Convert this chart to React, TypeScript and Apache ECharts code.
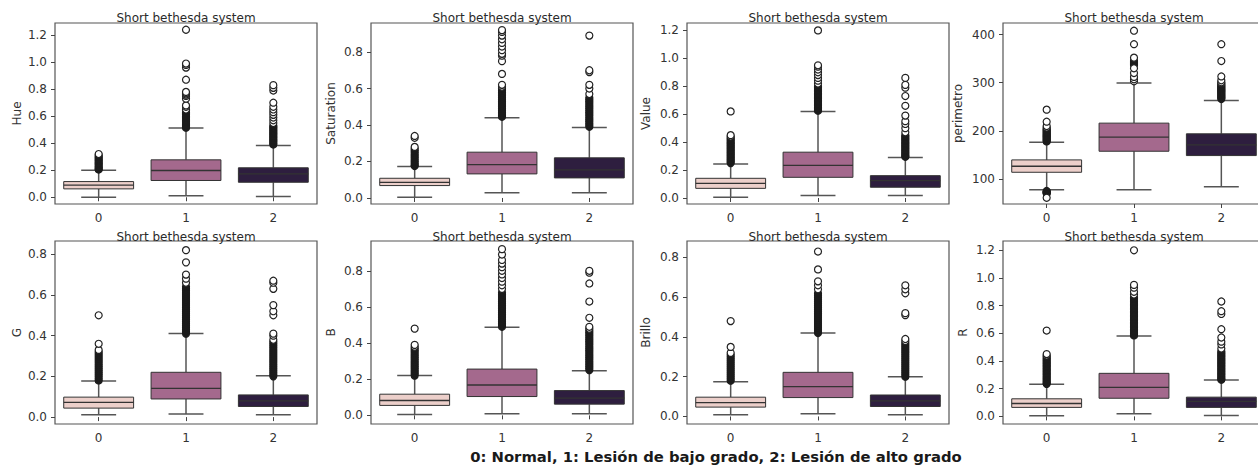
import React, { useEffect, useRef } from "react";
import * as echarts from "echarts";

const categories = ["0", "1", "2"];
const classColors = ["#eccfca", "#a4698d", "#2e1e3f"];
const panelTitle = "Short bethesda system";
const caption = "0: Normal, 1: Lesión de bajo grado, 2: Lesión de alto grado";

// box stats per class: [lower whisker, Q1, median, Q3, upper whisker]
const hueStats = [
  [0.0, 0.062, 0.09, 0.116, 0.2],
  [0.012, 0.124, 0.198, 0.277, 0.512],
  [0.005, 0.111, 0.173, 0.218, 0.383],
];
// dense (overlapping) outliers and isolated outliers, per class
const hueDense = [
  [0.205, 0.21, 0.22, 0.23, 0.24, 0.25, 0.26, 0.27, 0.28, 0.29, 0.3, 0.31],
  [0.515, 0.52, 0.53, 0.54, 0.55, 0.56, 0.57, 0.58, 0.59, 0.6, 0.61, 0.62, 0.63, 0.64],
  [0.39, 0.4, 0.41, 0.42, 0.43, 0.44, 0.45, 0.46, 0.47, 0.48, 0.49, 0.5, 0.51, 0.52, 0.53],
];
const hueSparse = [
  [0.32],
  [0.65, 0.67, 0.68, 0.73, 0.75, 0.76, 0.77, 0.78, 0.87, 0.96, 0.98, 0.99, 1.24],
  [0.55, 0.57, 0.59, 0.61, 0.63, 0.65, 0.67, 0.7, 0.79, 0.81, 0.83],
];

const satStats = [
  [0.004, 0.068, 0.086, 0.108, 0.172],
  [0.029, 0.132, 0.183, 0.251, 0.44],
  [0.029, 0.11, 0.154, 0.22, 0.386],
];
const satDense = [
  [0.175, 0.18, 0.19, 0.2, 0.21, 0.22, 0.23, 0.24, 0.25, 0.26, 0.27],
  [0.445, 0.45, 0.46, 0.47, 0.48, 0.49, 0.5, 0.51, 0.52, 0.53, 0.54, 0.55, 0.56, 0.57, 0.58, 0.59, 0.6],
  [0.39, 0.4, 0.41, 0.42, 0.43, 0.44, 0.45, 0.46, 0.47, 0.48, 0.49, 0.5, 0.51, 0.52, 0.53, 0.54, 0.55],
];
const satSparse = [
  [0.28, 0.33, 0.34],
  [0.61, 0.62, 0.68, 0.75, 0.78, 0.79, 0.81, 0.83, 0.85, 0.87, 0.89, 0.91, 0.92],
  [0.57, 0.6, 0.62, 0.69, 0.7, 0.89],
];

const valStats = [
  [0.005, 0.069, 0.105, 0.141, 0.244],
  [0.017, 0.148, 0.234, 0.328, 0.619],
  [0.017, 0.077, 0.124, 0.16, 0.29],
];
const valDense = [
  [0.25, 0.26, 0.27, 0.28, 0.29, 0.3, 0.31, 0.32, 0.33, 0.34, 0.35, 0.36, 0.37, 0.38, 0.39, 0.4, 0.41, 0.42, 0.43],
  [0.625, 0.63, 0.64, 0.65, 0.66, 0.67, 0.68, 0.69, 0.7, 0.71, 0.72, 0.73, 0.74, 0.75, 0.76, 0.77, 0.78, 0.79, 0.8],
  [0.295, 0.3, 0.31, 0.32, 0.33, 0.34, 0.35, 0.36, 0.37, 0.38, 0.39, 0.4, 0.41, 0.42, 0.43, 0.44, 0.45],
];
const valSparse = [
  [0.44, 0.45, 0.62],
  [0.82, 0.84, 0.86, 0.88, 0.9, 0.92, 0.94, 0.95, 1.2],
  [0.47, 0.5, 0.53, 0.55, 0.59, 0.66, 0.73, 0.79, 0.81, 0.86],
];

const perStats = [
  [77.8, 113.9, 126.4, 139.6, 176.4],
  [77.8, 157.6, 186.8, 216, 299.3],
  [84, 148.6, 170.8, 193.8, 263.2],
];
const perDense = [
  [178, 180, 182, 184, 186, 188, 190, 192, 194, 196, 198, 200, 202, 204, 70, 71, 72, 73, 74, 75],
  [337, 339, 341, 343, 345],
  [266, 268, 270, 272, 274, 276, 278, 280, 282, 284, 286, 288, 290, 292, 294, 296],
];
const perSparse = [
  [207, 210, 219, 244, 61],
  [303, 307, 312, 320, 330, 352, 380, 408],
  [299, 301, 305, 313, 345, 380],
];

const gStats = [
  [0.011, 0.044, 0.072, 0.098, 0.177],
  [0.015, 0.089, 0.141, 0.22, 0.41],
  [0.011, 0.052, 0.08, 0.109, 0.203],
];
const gDense = [
  [0.18, 0.19, 0.2, 0.21, 0.22, 0.23, 0.24, 0.25, 0.26, 0.27, 0.28, 0.29, 0.3, 0.31, 0.32],
  [0.41, 0.42, 0.43, 0.44, 0.45, 0.46, 0.47, 0.48, 0.49, 0.5, 0.51, 0.52, 0.53, 0.54, 0.55, 0.56, 0.57, 0.58, 0.59, 0.6, 0.61, 0.62, 0.63, 0.64],
  [0.2, 0.21, 0.22, 0.23, 0.24, 0.25, 0.26, 0.27, 0.28, 0.29, 0.3, 0.31, 0.32, 0.33, 0.34, 0.35, 0.36, 0.37],
];
const gSparse = [
  [0.33, 0.36, 0.5],
  [0.66, 0.68, 0.7, 0.76, 0.82],
  [0.38, 0.4, 0.41, 0.5, 0.52, 0.55, 0.63, 0.66, 0.67],
];

const bStats = [
  [0.004, 0.055, 0.082, 0.117, 0.22],
  [0.009, 0.104, 0.168, 0.256, 0.487],
  [0.009, 0.062, 0.095, 0.137, 0.247],
];
const bDense = [
  [0.22, 0.23, 0.24, 0.25, 0.26, 0.27, 0.28, 0.29, 0.3, 0.31, 0.32, 0.33, 0.34, 0.35, 0.36, 0.37],
  [0.49, 0.5, 0.51, 0.52, 0.53, 0.54, 0.55, 0.56, 0.57, 0.58, 0.59, 0.6, 0.61, 0.62, 0.63, 0.64, 0.65, 0.66, 0.67, 0.68],
  [0.25, 0.26, 0.27, 0.28, 0.29, 0.3, 0.31, 0.32, 0.33, 0.34, 0.35, 0.36, 0.37, 0.38, 0.39, 0.4, 0.41, 0.42, 0.43, 0.44, 0.45, 0.46, 0.47],
];
const bSparse = [
  [0.38, 0.39, 0.48],
  [0.7, 0.72, 0.74, 0.76, 0.78, 0.8, 0.82, 0.84, 0.86, 0.89, 0.92],
  [0.48, 0.49, 0.54, 0.63, 0.73, 0.79, 0.8],
];

const brStats = [
  [0.008, 0.047, 0.07, 0.097, 0.175],
  [0.013, 0.095, 0.15, 0.222, 0.42],
  [0.008, 0.05, 0.078, 0.108, 0.2],
];
const brDense = [
  [0.18, 0.19, 0.2, 0.21, 0.22, 0.23, 0.24, 0.25, 0.26, 0.27, 0.28, 0.29, 0.3, 0.31],
  [0.42, 0.43, 0.44, 0.45, 0.46, 0.47, 0.48, 0.49, 0.5, 0.51, 0.52, 0.53, 0.54, 0.55, 0.56, 0.57, 0.58, 0.59, 0.6, 0.61, 0.62],
  [0.2, 0.21, 0.22, 0.23, 0.24, 0.25, 0.26, 0.27, 0.28, 0.29, 0.3, 0.31, 0.32, 0.33, 0.34, 0.35, 0.36, 0.37],
];
const brSparse = [
  [0.32, 0.35, 0.48],
  [0.64, 0.66, 0.68, 0.74, 0.83],
  [0.38, 0.39, 0.51, 0.52, 0.62, 0.64, 0.66],
];

const rStats = [
  [0.005, 0.065, 0.093, 0.127, 0.232],
  [0.019, 0.131, 0.21, 0.311, 0.581],
  [0.007, 0.065, 0.108, 0.139, 0.263],
];
const rDense = [
  [0.235, 0.24, 0.25, 0.26, 0.27, 0.28, 0.29, 0.3, 0.31, 0.32, 0.33, 0.34, 0.35, 0.36, 0.37, 0.38, 0.39, 0.4, 0.41, 0.42, 0.43],
  [0.585, 0.59, 0.6, 0.61, 0.62, 0.63, 0.64, 0.65, 0.66, 0.67, 0.68, 0.69, 0.7, 0.71, 0.72, 0.73, 0.74, 0.75, 0.76, 0.77, 0.78, 0.79, 0.8, 0.81, 0.82, 0.83, 0.84, 0.85, 0.86],
  [0.265, 0.27, 0.28, 0.29, 0.3, 0.31, 0.32, 0.33, 0.34, 0.35, 0.36, 0.37, 0.38, 0.39, 0.4, 0.41, 0.42, 0.43, 0.44, 0.45, 0.46, 0.47],
];
const rSparse = [
  [0.44, 0.45, 0.62],
  [0.88, 0.9, 0.93, 0.95, 1.2],
  [0.49, 0.52, 0.54, 0.57, 0.63, 0.74, 0.76, 0.83],
];

const fracTicks12 = [0, 0.2, 0.4, 0.6, 0.8, 1.0, 1.2];
const fracTicks08 = [0, 0.2, 0.4, 0.6, 0.8];
const perTicks = [100, 200, 300, 400];

const panels = [
  { name: "Hue", stats: hueStats, dense: hueDense, sparse: hueSparse, min: -0.05, max: 1.29, ticks: fracTicks12, dec: 1, gap: 32 },
  { name: "Saturation", stats: satStats, dense: satDense, sparse: satSparse, min: -0.033, max: 0.959, ticks: fracTicks08, dec: 1, gap: 34 },
  { name: "Value", stats: valStats, dense: valDense, sparse: valSparse, min: -0.043, max: 1.253, ticks: fracTicks12, dec: 1, gap: 35 },
  { name: "perimetro", stats: perStats, dense: perDense, sparse: perSparse, min: 48, max: 424, ticks: perTicks, dec: 0, gap: 39 },
  { name: "G", stats: gStats, dense: gDense, sparse: gSparse, min: -0.034, max: 0.865, ticks: fracTicks08, dec: 1, gap: 32 },
  { name: "B", stats: bStats, dense: bDense, sparse: bSparse, min: -0.048, max: 0.965, ticks: fracTicks08, dec: 1, gap: 34 },
  { name: "Brillo", stats: brStats, dense: brDense, sparse: brSparse, min: -0.038, max: 0.883, ticks: fracTicks08, dec: 1, gap: 35 },
  { name: "R", stats: rStats, dense: rDense, sparse: rSparse, min: -0.055, max: 1.267, ticks: fracTicks12, dec: 1, gap: 34 },
];

const FONT = "DejaVu Sans";
const LEFTS = [55, 371, 687, 1003];
const PANEL_W = 262;
const ROWS = [
  { top: 23, height: 181, titleY: 18 },
  { top: 241, height: 183, titleY: 237 },
];
const LINE = "#555555";
const EDGE = "#333333";
const DENSE = "#1c1c1c";

export default function App() {
  const ref = useRef<HTMLDivElement>(null);
  useEffect(() => {
    if (!ref.current) return;
    const chart = echarts.init(ref.current, null, { renderer: "svg" });
    const grid: any[] = [];
    const xAxis: any[] = [];
    const yAxis: any[] = [];
    const series: any[] = [];
    const graphic: any[] = [];

    panels.forEach((p, i) => {
      const row = ROWS[Math.floor(i / 4)];
      const left = LEFTS[i % 4];
      grid.push({
        left,
        top: row.top,
        width: PANEL_W,
        height: row.height,
        show: true,
        borderColor: "#555",
        borderWidth: 1.2,
        backgroundColor: "transparent",
      });
      xAxis.push({
        type: "category",
        gridIndex: i,
        data: categories,
        axisLine: { show: false },
        axisTick: { show: true, alignWithLabel: true, length: 4, lineStyle: { color: "#444" } },
        axisLabel: { fontSize: 12, color: "#333", fontFamily: FONT, margin: 8 },
        splitLine: { show: false },
      });
      yAxis.push({
        type: "value",
        gridIndex: i,
        min: p.min,
        max: p.max,
        name: p.name,
        nameLocation: "middle",
        nameGap: p.gap,
        nameTextStyle: { fontSize: 12, color: "#333", fontFamily: FONT },
        axisLine: { show: false },
        axisTick: { show: true, length: 4, customValues: p.ticks, lineStyle: { color: "#444" } },
        axisLabel: {
          fontSize: 12,
          color: "#333",
          fontFamily: FONT,
          margin: 8,
          customValues: p.ticks,
          formatter: (v: number) => v.toFixed(p.dec),
        },
        splitLine: { show: false },
      });
      series.push({
        type: "custom",
        xAxisIndex: i,
        yAxisIndex: i,
        z: 2,
        clip: false,
        data: p.stats.map((s, c) => [c, s[0], s[1], s[2], s[3], s[4]]),
        renderItem: (params: any, api: any) => {
          const c = api.value(0);
          const lo = api.coord([c, api.value(1)]);
          const q1 = api.coord([c, api.value(2)]);
          const med = api.coord([c, api.value(3)]);
          const q3 = api.coord([c, api.value(4)]);
          const hi = api.coord([c, api.value(5)]);
          const band = api.size([1, 0])[0];
          const bw = band * 0.8;
          const cw = bw * 0.5;
          const cx = lo[0];
          const ls = { stroke: LINE, lineWidth: 1.5 };
          return {
            type: "group",
            children: [
              { type: "line", shape: { x1: cx, y1: q1[1], x2: cx, y2: lo[1] }, style: ls },
              { type: "line", shape: { x1: cx, y1: q3[1], x2: cx, y2: hi[1] }, style: ls },
              { type: "line", shape: { x1: cx - cw / 2, y1: lo[1], x2: cx + cw / 2, y2: lo[1] }, style: ls },
              { type: "line", shape: { x1: cx - cw / 2, y1: hi[1], x2: cx + cw / 2, y2: hi[1] }, style: ls },
              {
                type: "rect",
                shape: { x: cx - bw / 2, y: q3[1], width: bw, height: q1[1] - q3[1] },
                style: { fill: classColors[c], stroke: EDGE, lineWidth: 1 },
              },
              {
                type: "line",
                shape: { x1: cx - bw / 2, y1: med[1], x2: cx + bw / 2, y2: med[1] },
                style: { stroke: EDGE, lineWidth: 1.3 },
              },
            ],
          };
        },
      });
      const densePts: number[][] = [];
      p.dense.forEach((arr, c) => arr.forEach((v) => densePts.push([c, v])));
      const sparsePts: number[][] = [];
      p.sparse.forEach((arr, c) => arr.forEach((v) => sparsePts.push([c, v])));
      series.push({
        type: "scatter",
        xAxisIndex: i,
        yAxisIndex: i,
        z: 3,
        symbol: "circle",
        symbolSize: 7,
        itemStyle: { color: DENSE, borderColor: DENSE, borderWidth: 1.2, opacity: 1 },
        data: densePts,
      });
      series.push({
        type: "scatter",
        xAxisIndex: i,
        yAxisIndex: i,
        z: 4,
        symbol: "circle",
        symbolSize: 7,
        itemStyle: { color: "#ffffff", borderColor: "#222", borderWidth: 1.2, opacity: 1 },
        data: sparsePts,
      });
      graphic.push({
        type: "text",
        x: left + PANEL_W / 2,
        y: row.titleY,
        z: 10,
        style: {
          text: panelTitle,
          align: "center",
          verticalAlign: "middle",
          font: `12px '${FONT}'`,
          fill: "#2a2a2a",
        },
      });
    });

    graphic.push({
      type: "text",
      x: 716,
      y: 456,
      z: 10,
      style: {
        text: caption,
        align: "center",
        verticalAlign: "middle",
        font: `bold 14.8px '${FONT}'`,
        fill: "#1a1a1a",
      },
    });

    chart.setOption({
      animation: false,
      backgroundColor: "#ffffff",
      grid,
      xAxis,
      yAxis,
      series,
      graphic,
    });
    return () => chart.dispose();
  }, []);
  return (
    <div
      ref={ref}
      style={{ position: "fixed", left: 0, top: 0, width: 1275, height: 465, background: "#fff" }}
    />
  );
}
